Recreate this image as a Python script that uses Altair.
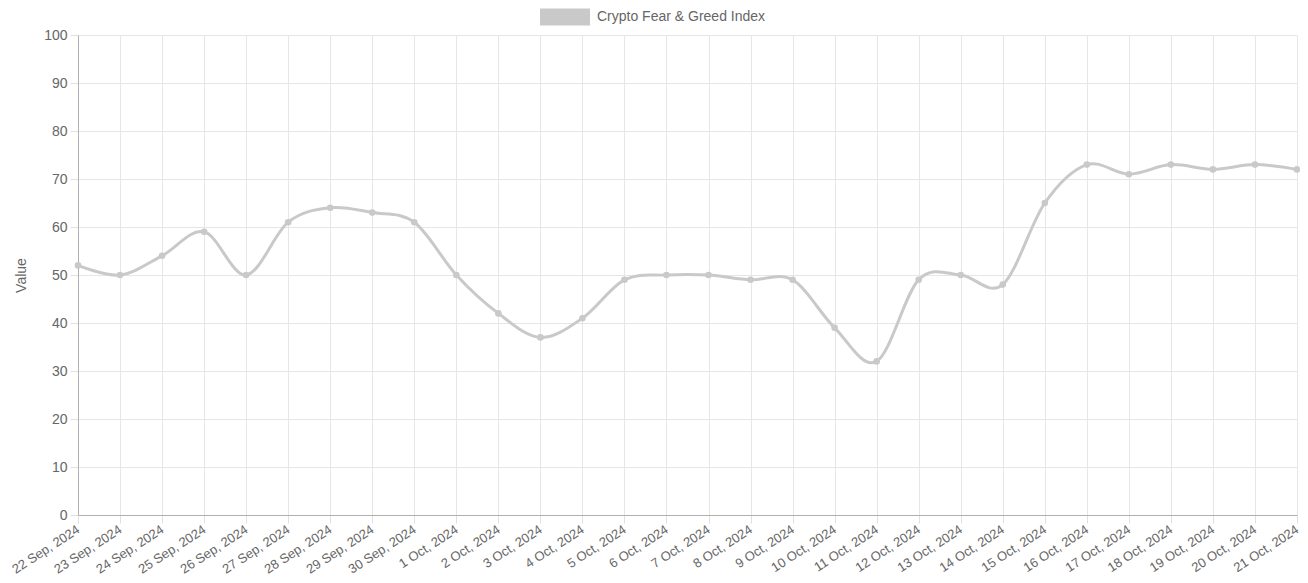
import altair as alt
import pandas as pd

dates = ["22 Sep, 2024", "23 Sep, 2024", "24 Sep, 2024", "25 Sep, 2024", "26 Sep, 2024",
         "27 Sep, 2024", "28 Sep, 2024", "29 Sep, 2024", "30 Sep, 2024", "1 Oct, 2024",
         "2 Oct, 2024", "3 Oct, 2024", "4 Oct, 2024", "5 Oct, 2024", "6 Oct, 2024",
         "7 Oct, 2024", "8 Oct, 2024", "9 Oct, 2024", "10 Oct, 2024", "11 Oct, 2024",
         "12 Oct, 2024", "13 Oct, 2024", "14 Oct, 2024", "15 Oct, 2024", "16 Oct, 2024",
         "17 Oct, 2024", "18 Oct, 2024", "19 Oct, 2024", "20 Oct, 2024", "21 Oct, 2024"]
values = [52, 50, 54, 59, 50, 61, 64, 63, 61, 50,
          42, 37, 41, 49, 50, 50, 49, 49, 39, 32,
          49, 50, 48, 65, 73, 71, 73, 72, 73, 72]
series_name = "Crypto Fear & Greed Index"

df = pd.DataFrame({"date": dates, "value": values, "series": [series_name] * len(dates)})

FONT = "Liberation Sans"
TXT = "#666666"
LINE = "#c9c9c9"
FS = 14

x = alt.X("date:N", sort=dates, title=None,
          scale=alt.Scale(type="point", padding=0),
          axis=alt.Axis(labelAngle=327, labelAlign="right", labelBaseline="middle",
                        labelFont=FONT, labelFontSize=13, labelColor=TXT, labelPadding=5,
                        tickSize=8, tickColor="#e0e0e0", domainColor="#b0b0b0",
                        gridColor="#e6e6e6", grid=True, labelOverlap=False))
y = alt.Y("value:Q", title="Value",
          scale=alt.Scale(domain=[0, 100], nice=False),
          axis=alt.Axis(values=list(range(0, 101, 10)), labelFont=FONT, labelFontSize=FS,
                        labelColor=TXT, titleFont=FONT, titleFontSize=FS, titleColor=TXT,
                        titleFontWeight="normal", titlePadding=15,
                        tickSize=8, tickColor="#e0e0e0", domainColor="#b0b0b0",
                        gridColor="#e6e6e6", labelPadding=3))

color = alt.Color("series:N", scale=alt.Scale(range=[LINE]),
                  legend=alt.Legend(title=None, orient="none", legendX=462, legendY=-43,
                                    symbolType="M-1,-0.34L1,-0.34L1,0.34L-1,0.34Z",
                                    symbolSize=2500, symbolStrokeWidth=0,
                                    symbolFillColor=LINE, labelLimit=400,
                                    labelFont=FONT, labelFontSize=FS, labelColor=TXT,
                                    labelOffset=7))

line = alt.Chart(df).mark_line(interpolate="cardinal", strokeWidth=3).encode(x=x, y=y, color=color)
pts = alt.Chart(df).mark_circle(size=44, opacity=1).encode(
    x=x, y=y, color=alt.Color("series:N", legend=None, scale=alt.Scale(range=[LINE])))

chart = (line + pts).properties(
    width=1219, height=480,
    padding={"left": 70, "top": 27, "right": 3, "bottom": 66},
    autosize=alt.AutoSizeParams(type="none"),
).configure_view(stroke=None).configure_axis(domainWidth=1)

chart.save("out.html", embed_options={"renderer": "svg", "actions": False})
